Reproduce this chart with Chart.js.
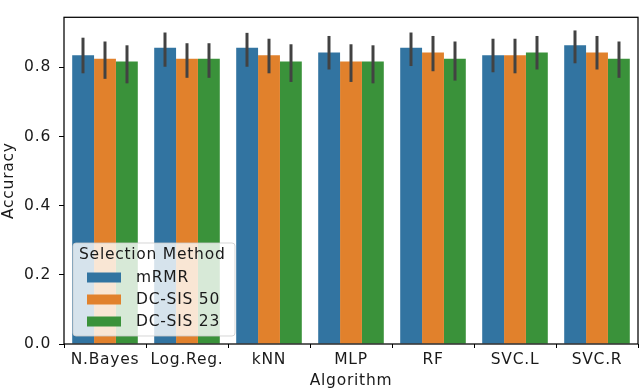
<!DOCTYPE html>
<html>
<head>
<meta charset="utf-8">
<script src="https://cdn.jsdelivr.net/npm/chart.js@4"></script>
<style>
  html, body { margin: 0; padding: 0; background: #fff; }
  #wrap { width: 640px; height: 390px; position: relative; }
</style>
</head>
<body>
<div id="wrap"><canvas id="c"></canvas></div>
<script>
// ---- data ----
const categories = ['N.Bayes', 'Log.Reg.', 'kNN', 'MLP', 'RF', 'SVC.L', 'SVC.R'];
const seriesNames = ['mRMR', 'DC-SIS 50', 'DC-SIS 23'];
const mrmr    = [0.835, 0.857, 0.857, 0.843, 0.857, 0.835, 0.864];
const dcsis50 = [0.825, 0.825, 0.835, 0.817, 0.843, 0.835, 0.843];
const dcsis23 = [0.817, 0.825, 0.817, 0.817, 0.825, 0.843, 0.825];
const mrmrLo    = [0.783, 0.802, 0.802, 0.794, 0.804, 0.786, 0.812];
const mrmrHi    = [0.886, 0.901, 0.900, 0.891, 0.901, 0.883, 0.907];
const dcsis50Lo = [0.767, 0.770, 0.783, 0.758, 0.789, 0.783, 0.794];
const dcsis50Hi = [0.875, 0.870, 0.883, 0.867, 0.891, 0.883, 0.891];
const dcsis23Lo = [0.754, 0.770, 0.758, 0.754, 0.762, 0.794, 0.770];
const dcsis23Hi = [0.864, 0.870, 0.867, 0.864, 0.875, 0.891, 0.875];
const yTicks = [0.0, 0.2, 0.4, 0.6, 0.8];
const legendTitle = 'Selection Method';
const xTitle = 'Algorithm';
const yTitle = 'Accuracy';

// ---- styles ----
const colors = ['#3274a1', '#e1812c', '#3a923a'];
const FONT = 'DejaVu Sans';
const FS = 15.5;
const TXT = '#1a1a1a';
const LS = '0.75px';

const seriesValues = [mrmr, dcsis50, dcsis23];
const seriesLo = [mrmrLo, dcsis50Lo, dcsis23Lo];
const seriesHi = [mrmrHi, dcsis50Hi, dcsis23Hi];

function setSpacing(chart) { if (chart.ctx) chart.ctx.letterSpacing = LS; }

const extrasPlugin = {
  id: 'extras',
  beforeUpdate: setSpacing,
  beforeLayout: setSpacing,
  beforeDraw: setSpacing,
  afterDatasetsDraw(chart) {
    const ctx = chart.ctx;
    const y = chart.scales.y;
    const area = chart.chartArea;
    // error bars
    ctx.save();
    ctx.strokeStyle = '#424242';
    ctx.lineWidth = 3;
    ctx.lineCap = 'butt';
    seriesValues.forEach((_, di) => {
      const meta = chart.getDatasetMeta(di);
      meta.data.forEach((bar, i) => {
        const x = Math.round(bar.x);
        ctx.beginPath();
        ctx.moveTo(x, y.getPixelForValue(seriesLo[di][i]));
        ctx.lineTo(x, y.getPixelForValue(seriesHi[di][i]));
        ctx.stroke();
      });
    });
    ctx.restore();
    // frame
    ctx.save();
    ctx.strokeStyle = '#000';
    ctx.lineWidth = 1.25;
    ctx.strokeRect(area.left, area.top, area.right - area.left, area.bottom - area.top);
    ctx.restore();
    // legend (inside, lower left)
    const bx = 73, by = 243, bw = 162, bh = 93, r = 3;
    ctx.save();
    ctx.beginPath();
    ctx.moveTo(bx + r, by);
    ctx.lineTo(bx + bw - r, by);
    ctx.quadraticCurveTo(bx + bw, by, bx + bw, by + r);
    ctx.lineTo(bx + bw, by + bh - r);
    ctx.quadraticCurveTo(bx + bw, by + bh, bx + bw - r, by + bh);
    ctx.lineTo(bx + r, by + bh);
    ctx.quadraticCurveTo(bx, by + bh, bx, by + bh - r);
    ctx.lineTo(bx, by + r);
    ctx.quadraticCurveTo(bx, by, bx + r, by);
    ctx.closePath();
    ctx.fillStyle = 'rgba(255,255,255,0.8)';
    ctx.fill();
    ctx.strokeStyle = 'rgba(204,204,204,0.8)';
    ctx.lineWidth = 1;
    ctx.stroke();
    ctx.letterSpacing = LS;
    ctx.font = FS + 'px "' + FONT + '"';
    ctx.fillStyle = TXT;
    ctx.textBaseline = 'middle';
    ctx.textAlign = 'left';
    ctx.fillText(legendTitle, 79, 255);
    seriesNames.forEach((name, i) => {
      const cy = 277.5 + i * 22;
      ctx.fillStyle = colors[i];
      ctx.fillRect(87, cy - 5, 34, 10);
      ctx.fillStyle = TXT;
      ctx.fillText(name, 136, cy + 0.5);
    });
    ctx.restore();
  }
};

new Chart(document.getElementById('c'), {
  type: 'bar',
  data: {
    labels: categories,
    datasets: seriesNames.map((name, i) => ({
      label: name,
      data: seriesValues[i],
      backgroundColor: colors[i],
      borderWidth: 0,
      categoryPercentage: 0.8,
      barPercentage: 1.0
    }))
  },
  options: {
    responsive: true,
    maintainAspectRatio: false,
    animation: false,
    devicePixelRatio: 1,
    events: [],
    layout: { padding: { left: 0, right: 2, top: 2, bottom: 0 } },
    plugins: { legend: { display: false }, tooltip: { enabled: false } },
    scales: {
      x: {
        border: { display: false },
        grid: { drawOnChartArea: false, drawTicks: true, tickLength: 4, color: '#000', lineWidth: 1 },
        ticks: { color: TXT, font: { family: FONT, size: FS }, padding: 3, maxRotation: 0, autoSkip: false },
        title: { display: true, text: xTitle, color: TXT, font: { family: FONT, size: FS }, padding: 0 },
        afterFit(s) { s.height = 46; }
      },
      y: {
        min: 0,
        max: 0.945,
        border: { display: false },
        grid: { drawOnChartArea: false, drawTicks: true, tickLength: 5, color: '#000', lineWidth: 1 },
        ticks: { color: TXT, font: { family: FONT, size: FS }, padding: 8,
                 callback: (v) => Number(v).toFixed(1) },
        afterBuildTicks(s) { s.ticks = yTicks.map(v => ({ value: v })); },
        title: { display: true, text: yTitle, color: TXT, font: { family: FONT, size: FS }, padding: 0 },
        afterFit(s) { s.width = 64; }
      }
    }
  },
  plugins: [extrasPlugin]
});
</script>
</body>
</html>
